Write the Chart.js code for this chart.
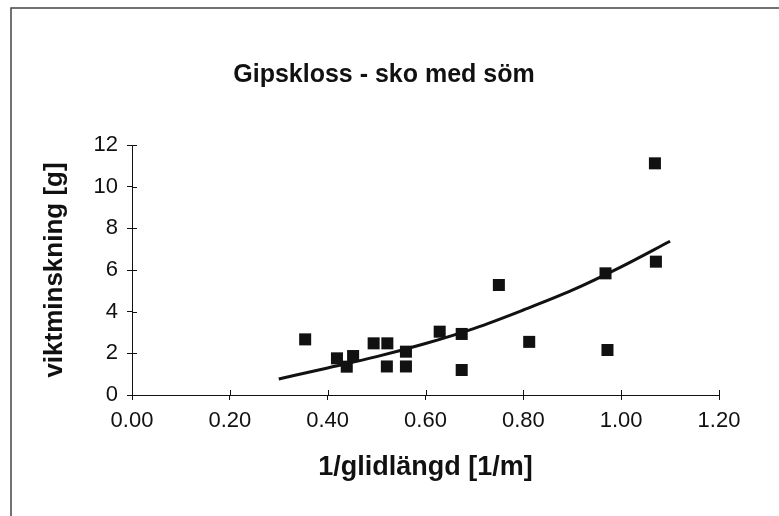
<!DOCTYPE html>
<html>
<head>
<meta charset="utf-8">
<script src="https://cdn.jsdelivr.net/npm/chart.js@4/dist/chart.umd.min.js"></script>
<style>
  body { margin: 0; background: #fff; }
  canvas { display: block; }
</style>
</head>
<body>
<canvas id="gipsChart" width="779" height="516"></canvas>
<script>
const chartTitle = 'Gipskloss - sko med söm';
const xAxisTitle = '1/glidlängd [1/m]';
const yAxisTitle = 'viktminskning [g]';

// measured points
const inverseLength = [0.354, 0.419, 0.439, 0.452, 0.494, 0.522, 0.521, 0.560, 0.560,
                       0.629, 0.674, 0.674, 0.750, 0.812, 0.968, 0.972, 1.069, 1.071];
const weightLoss = [2.67, 1.76, 1.36, 1.87, 2.48, 2.48, 1.37, 2.08, 1.37,
                    3.04, 2.93, 1.20, 5.28, 2.55, 5.84, 2.16, 11.12, 6.40];

// trend line
const trendX = [0.30, 0.40, 0.50, 0.60, 0.70, 0.80, 0.90, 1.00, 1.10];
const trendY = [0.77, 1.30, 1.84, 2.47, 3.20, 4.08, 5.03, 6.15, 7.38];

const xTicks = { min: 0, max: 1.2, step: 0.2 };
const yTicks = { min: 0, max: 12, step: 2 };

const fontFamily = 'Arial, "Liberation Sans", sans-serif';
const ink = '#111';

// the scanned title is a narrow face; use Liberation Sans Narrow if it is installed
function titleFont() {
    const c = document.createElement('canvas').getContext('2d');
    c.font = 'bold 29px monospace';
    const base = c.measureText(chartTitle).width;
    c.font = 'bold 29px "Liberation Sans Narrow", monospace';
    const narrow = c.measureText(chartTitle).width;
    return narrow !== base ? 'bold 29px "Liberation Sans Narrow"' : `bold 25px ${fontFamily}`;
}

const framePlugin = {
    id: 'frame',
    beforeDraw(chart) {
        const ctx = chart.ctx;
        ctx.save();
        ctx.fillStyle = '#fff';
        ctx.fillRect(0, 0, chart.width, chart.height);
        ctx.strokeStyle = '#444';
        ctx.lineWidth = 1.5;
        ctx.beginPath();
        ctx.moveTo(11, chart.height);
        ctx.lineTo(11, 8);
        ctx.lineTo(chart.width, 8);
        ctx.stroke();
        ctx.restore();
    },
    afterDraw(chart) {
        const ctx = chart.ctx;
        const area = chart.chartArea;
        ctx.save();
        ctx.fillStyle = ink;
        ctx.font = titleFont();
        ctx.textAlign = 'center';
        ctx.textBaseline = 'alphabetic';
        ctx.fillText(chartTitle, 384, 82);

        // inner half of the tick marks
        ctx.strokeStyle = ink;
        ctx.lineWidth = 1;
        ctx.beginPath();
        chart.scales.x.ticks.forEach(t => {
            const px = Math.round(chart.scales.x.getPixelForValue(t.value)) + 0.5;
            ctx.moveTo(px, area.bottom);
            ctx.lineTo(px, area.bottom - 5);
        });
        chart.scales.y.ticks.forEach(t => {
            const py = Math.round(chart.scales.y.getPixelForValue(t.value)) + 0.5;
            ctx.moveTo(area.left, py);
            ctx.lineTo(area.left + 5, py);
        });
        ctx.stroke();
        ctx.restore();
    }
};

const ctx = document.getElementById('gipsChart').getContext('2d');
new Chart(ctx, {
    type: 'scatter',
    data: {
        datasets: [{
            label: 'mätpunkter',
            data: inverseLength.map((x, i) => ({ x: x, y: weightLoss[i] })),
            pointStyle: 'rect',
            pointRadius: 8.5,
            pointBorderWidth: 0,
            backgroundColor: ink,
            borderColor: ink
        }, {
            label: 'trend',
            type: 'line',
            data: trendX.map((x, i) => ({ x: x, y: trendY[i] })),
            borderColor: ink,
            borderWidth: 3,
            pointRadius: 0,
            fill: false,
            cubicInterpolationMode: 'monotone'
        }]
    },
    options: {
        responsive: false,
        animation: false,
        devicePixelRatio: 1,
        layout: { padding: { top: 145, right: 60, bottom: 0, left: 0 } },
        plugins: { legend: { display: false }, tooltip: { enabled: false }, title: { display: false } },
        scales: {
            x: {
                type: 'linear',
                min: xTicks.min,
                max: xTicks.max,
                ticks: {
                    stepSize: xTicks.step,
                    callback: v => Number(v).toFixed(2),
                    font: { family: fontFamily, size: 22 },
                    color: ink,
                    padding: 8,
                    maxRotation: 0
                },
                grid: { drawOnChartArea: false, tickLength: 5, color: ink },
                border: { color: ink, width: 1 },
                title: {
                    display: true,
                    text: xAxisTitle,
                    font: { family: fontFamily, size: 27, weight: 'bold' },
                    color: ink,
                    padding: { top: 0, bottom: 32 }
                },
                afterFit(scale) { scale.height = 121; }
            },
            y: {
                min: yTicks.min,
                max: yTicks.max,
                ticks: {
                    stepSize: yTicks.step,
                    font: { family: fontFamily, size: 22 },
                    color: ink,
                    padding: 9
                },
                grid: { drawOnChartArea: false, tickLength: 5, color: ink },
                border: { color: ink, width: 1 },
                title: {
                    display: true,
                    text: yAxisTitle,
                    font: { family: fontFamily, size: 26, weight: 'bold' },
                    color: ink,
                    padding: { top: 39, bottom: 0 }
                },
                afterFit(scale) { scale.width = 132; }
            }
        }
    },
    plugins: [framePlugin]
});
</script>
</body>
</html>
